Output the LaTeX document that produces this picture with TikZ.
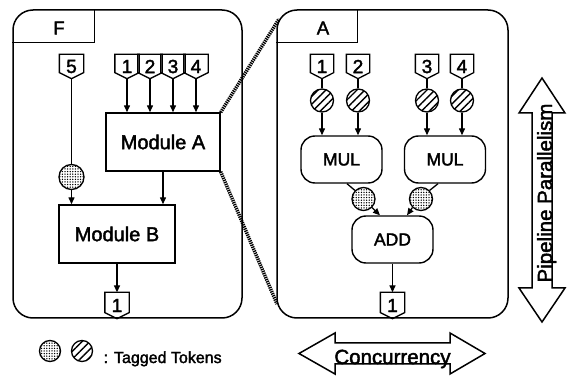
\documentclass[tikz,border=0pt]{standalone}
\usepackage{fontspec}
\setmainfont{Liberation Sans}[FakeBold=2]
\usetikzlibrary{arrows.meta,patterns.meta,calc}
\newcommand\tokpath[1]{\draw[line width=1.3pt,line join=miter] (#1.north west) -- (#1.north east) -- ([yshift=6pt]#1.south east) -- (#1.south) -- ([yshift=6pt]#1.south west) -- cycle;}
\begin{document}
\begin{tikzpicture}[x=1pt,y=-1pt,line width=1.3pt,
  panel/.style={draw, line width=1.5pt, rounded corners=20pt, minimum width=#1, minimum height=308pt, inner sep=0pt},
  module/.style={draw, line width=1.4pt, minimum width=115pt, minimum height=58pt, inner sep=0pt, font=\fontsize{20}{24}\selectfont},
  op/.style={draw, line width=1.4pt, rounded corners=14pt, minimum width=81pt, minimum height=47pt, inner sep=0pt, font=\fontsize{17.5}{20}\selectfont},
  tok/.style={minimum width=23pt, minimum height=#1, inner sep=0pt, font=\fontsize{19}{20}\selectfont},
  dottok/.style={circle, draw, line width=1.3pt, minimum size=23pt, inner sep=0pt, pattern={Dots[distance=2.6pt,radius=0.75pt]}},
  hatchtok/.style={circle, draw, line width=1.3pt, minimum size=23pt, inner sep=0pt, pattern={Lines[angle=45,distance=5.5pt,line width=1.4pt]}},
  arr/.style={-{Triangle[length=7pt,width=6pt]}},
  zoomline/.style={line width=3.5pt, dash pattern=on 1.3pt off 0.9pt},
  bigarrow/.style={draw, line width=1.5pt, fill=white, line join=miter},
  title/.style={font=\fontsize{18.5}{20}\selectfont},
  big/.style={font=\fontsize{20.5}{24}\selectfont, inner sep=0pt},
]
\useasboundingbox (0,0) rectangle (574,377);
% panels
\node[panel=229pt] (Fp) at (127.5,164) {};
\node[panel=231pt] (Ap) at (392.5,164) {};
\draw[line width=1.3pt] ([xshift=82pt]Fp.north west) |- ([yshift=-33pt]Fp.north west);
\draw[line width=1.3pt] ([xshift=81pt]Ap.north west) |- ([yshift=-33pt]Ap.north west);
\node[title] (Ft) at (59,28) {F};
\node[title] (At) at (323,28) {A};
% panel F
\node[module, minimum width=114pt] (mA) at (163,142) {Module A};
\node[module, minimum width=116pt] (mB) at (117,234) {Module B};
\node[tok=23pt] (f5) at (71.5,66.5) {5};
\node[tok=23pt] (f1) at (127,66.5) {1};
\node[tok=23pt] (f2) at (150,66.5) {2};
\node[tok=23pt] (f3) at (173,66.5) {3};
\node[tok=23pt] (f4) at (196,66.5) {4};
\foreach \t in {f5,f1,f2,f3,f4} {\tokpath{\t}}
\node[dottok, minimum size=25pt] (fc) at (71.5,177) {};
\draw (f5.south) -- (fc.north);
\draw[arr] (fc.south) -- (fc.south |- mB.north);
\foreach \t in {f1,f2,f3,f4} {\draw[arr] (\t.south) -- (\t.south |- mA.north);}
\draw[arr] (mA.south) -- (mA.south |- mB.north);
\node[tok=25pt] (fo) at (117,305.5) {1};
\tokpath{fo}
\draw[arr] (mB.south) -- (fo.north);
% zoom lines
\coordinate (zt) at (279,19);
\coordinate (zb) at (277,304);
\draw[zoomline] (mA.north east) -- (zt);
\draw[zoomline] (mA.south east) -- (zb);
% panel A
\node[op] (mul1) at (341.5,159.5) {MUL};
\node[op] (mul2) at (445,159.5) {MUL};
\node[op] (add) at (392.5,239.5) {ADD};
\foreach \n/\x in {1/322,2/358,3/427,4/462} {
  \node[tok=23pt, minimum width=22pt] (a\n) at (\x,66.5) {\n};
  \tokpath{a\n}
  \node[hatchtok] (h\n) at (\x,100.5) {};
  \draw (a\n.south) -- (h\n.north);
}
\draw[arr] (h1.south) -- (h1.south |- mul1.north);
\draw[arr] (h2.south) -- (h2.south |- mul1.north);
\draw[arr] (h3.south) -- (h3.south |- mul2.north);
\draw[arr] (h4.south) -- (h4.south |- mul2.north);
\node[dottok] (d1) at (363.5,199) {};
\node[dottok] (d2) at (421,199) {};
\draw ([xshift=5.5pt]mul1.south) -- (d1.135);
\draw ([xshift=-7pt]mul2.south) -- (d2.45);
\draw[arr] (d1.-45) -- ([xshift=-12.5pt]add.north);
\draw[arr] (d2.-135) -- ([xshift=14.5pt]add.north);
\node[tok=25pt] (ao) at (392.5,305.5) {1};
\tokpath{ao}
\draw[arr] (add.south) -- (ao.north);
% big arrows
\draw[bigarrow] (299,353.5) -- (335,333) -- (335,343) -- (450,343) -- (450,333) -- (485,353.5) -- (450,374) -- (450,364) -- (335,364) -- (335,374) -- cycle;
\node[big, anchor=base] (conc) at (392.5,364) {Concurrency};
\draw[bigarrow] (542,78) -- (565,113) -- (552,113) -- (552,288) -- (565,288) -- (542,322) -- (519,288) -- (532,288) -- (532,113) -- (519,113) -- cycle;
\node[big, rotate=90, anchor=base] (pipe) at (552,193) {Pipeline Parallelism};
% legend
\node[dottok, minimum size=21pt] (l1) at (50,351) {};
\node[hatchtok, minimum size=21pt] (l2) at (82,351) {};
\node[font=\fontsize{16}{18}\selectfont, anchor=base west, inner sep=0pt] (lt) at (103,363) {: Tagged Tokens};
\end{tikzpicture}
\end{document}
